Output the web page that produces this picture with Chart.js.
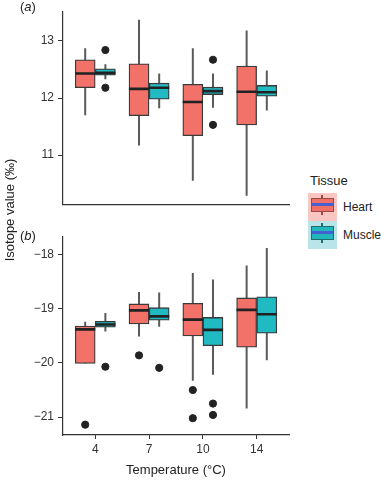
<!DOCTYPE html>
<html><head><meta charset="utf-8">
<script src="https://cdn.jsdelivr.net/npm/chart.js@4"></script>
<style>
body{margin:0;background:#fff;font-family:"Liberation Sans",Arial,sans-serif;color:#222}
#wrap{position:relative;width:382px;height:481px;overflow:hidden}
canvas{position:absolute;left:0}
.pl{position:absolute;font-size:13px;color:#222}
#ytitle{position:absolute;left:9px;top:210px;transform:translate(-50%,-50%) rotate(-90deg);white-space:nowrap;font-size:13px;color:#222}
.lg{position:absolute}
</style></head><body><div id="wrap">
<canvas id="ca" width="300" height="216" style="top:0"></canvas>
<canvas id="cb" width="300" height="256" style="top:225px"></canvas>
<div class="pl" style="left:20px;top:-1px">(<i>a</i>)</div>
<div class="pl" style="left:20px;top:228px">(<i>b</i>)</div>
<div id="ytitle">Isotope value (‰)</div>
<div class="pl" style="left:310px;top:173px;font-size:13px">Tissue</div>
<div class="lg" style="left:308px;top:193px;width:29px;height:28px;background:#f9c6c2"></div>
<div class="lg" style="left:321px;top:195px;width:2px;height:20px;background:#9a4a45"></div>
<div class="lg" style="left:311px;top:198px;width:21px;height:12px;background:#f07068;border:1px solid #9a4a45"></div>
<div class="lg" style="left:312px;top:203px;width:21px;height:3px;background:#4560d0"></div>
<div class="lg" style="left:308px;top:221px;width:29px;height:28px;background:#b9e4e8"></div>
<div class="lg" style="left:321px;top:223px;width:2px;height:20px;background:#1f6e70"></div>
<div class="lg" style="left:311px;top:226px;width:21px;height:12px;background:#22b7bd;border:1px solid #1f6e70"></div>
<div class="lg" style="left:312px;top:231px;width:21px;height:3px;background:#4560d0"></div>
<div class="pl" style="left:343px;top:200px;font-size:12px">Heart</div>
<div class="pl" style="left:343px;top:228px;font-size:12px">Muscle</div>
</div>
<script>
const categories = ['4', '7', '10', '14'];

// Panel (a)
const heartA_low  = [11.70, 11.17, 10.55, 10.29];
const heartA_q1   = [12.18, 11.69, 11.34, 11.53];
const heartA_med  = [12.43, 12.16, 11.93, 12.11];
const heartA_q3   = [12.67, 12.60, 12.24, 12.56];
const heartA_high = [12.87, 13.37, 12.87, 13.18];
const heartA_out  = [[], [], [], []];
const muscleA_low  = [12.33, 11.82, 11.83, 11.78];
const muscleA_q1   = [12.40, 11.98, 12.06, 12.03];
const muscleA_med  = [12.44, 12.18, 12.12, 12.10];
const muscleA_q3   = [12.51, 12.26, 12.19, 12.22];
const muscleA_high = [12.59, 12.43, 12.43, 12.48];
const muscleA_out  = [[12.84, 12.18], [], [12.67, 11.53], []];

// Panel (b)
const heartB_low  = [-20.01, -19.51, -20.33, -20.84];
const heartB_q1   = [-20.01, -19.28, -19.50, -19.71];
const heartB_med  = [-19.38, -19.03, -19.20, -19.02];
const heartB_q3   = [-19.32, -18.91, -18.90, -18.80];
const heartB_high = [-19.24, -18.69, -18.34, -18.20];
const heartB_out  = [[-21.14], [-19.86], [-20.50, -21.02], []];
const muscleB_low  = [-19.42, -19.33, -20.22, -19.95];
const muscleB_q1   = [-19.34, -19.21, -19.68, -19.45];
const muscleB_med  = [-19.29, -19.14, -19.39, -19.10];
const muscleB_q3   = [-19.23, -18.98, -19.16, -18.78];
const muscleB_high = [-19.08, -18.70, -18.46, -17.88];
const muscleB_out  = [[-20.07], [-20.09], [-20.75, -20.96], []];

const yTickValsA = [11, 12, 13];
const yTickLabelsA = ['11', '12', '13'];
const yTickValsB = [-21, -20, -19, -18];
const yTickLabelsB = ['\u221221', '\u221220', '\u221219', '\u221218'];
const yRangeA = [10.13, 13.52];
const yRangeB = [-21.33, -17.66];

const HALF = 0.1875;
const FONT = {family: 'Liberation Sans', size: 12};

function groupSets(low, q1, med, q3, high, out, off, fill) {
  const whisk = [], medl = [], pts = [];
  categories.forEach((c, i) => {
    const x = i + 1 + off;
    whisk.push({x: x, y: low[i]}, {x: x, y: high[i]}, {x: x, y: null});
    medl.push({x: x - HALF, y: med[i]}, {x: x + HALF, y: med[i]}, {x: x, y: null});
    out[i].forEach(v => pts.push({x: x, y: v}));
  });
  return [
    {type: 'line', data: whisk, borderColor: '#5a5a5a', borderWidth: 2, pointRadius: 0, spanGaps: false, order: 3},
    {type: 'bar', data: categories.map((c, i) => ({x: i + 1 + off, y: [q1[i], q3[i]]})),
      backgroundColor: fill, borderColor: '#3a3a3a', borderWidth: 1.3, borderSkipped: false,
      grouped: false, categoryPercentage: 1, barPercentage: 1, maxBarThickness: 20, order: 2},
    {type: 'line', data: medl, borderColor: '#222', borderWidth: 2.6, pointRadius: 0, spanGaps: false, order: 1},
    {type: 'scatter', data: pts, backgroundColor: '#222', borderColor: '#222', pointRadius: 3.6, order: 0}
  ];
}

function makeChart(id, sets, yRange, yVals, yLabels, bottom) {
  return new Chart(document.getElementById(id), {
    type: 'bar',
    data: {datasets: sets},
    options: {
      responsive: false, animation: false, devicePixelRatio: 1,
      layout: {padding: {top: bottom ? 8 : 7, right: 11, left: 0, bottom: 0}},
      plugins: {legend: {display: false}, tooltip: {enabled: false}},
      scales: {
        x: {
          type: 'linear', min: 0.4, max: 4.6, offset: false,
          afterBuildTicks: s => { s.ticks = categories.map((c, i) => ({value: i + 1})); },
          afterFit: s => { s.height = bottom ? 46 : 10; },
          grid: {display: true, drawOnChartArea: false, drawTicks: bottom, tickLength: 4, color: '#333', offset: false},
          border: {display: true, color: '#333', width: 1.2},
          ticks: {display: bottom, padding: 3, font: FONT, color: '#333', maxRotation: 0,
            callback: v => categories[Math.round(v) - 1]},
          title: {display: bottom, text: 'Temperature (\u00B0C)', color: '#222',
            font: {family: 'Liberation Sans', size: 13}, padding: {top: 0, bottom: 3}}
        },
        y: {
          type: 'linear', min: yRange[0], max: yRange[1], stacked: false,
          afterBuildTicks: s => { s.ticks = yVals.map(v => ({value: v})); },
          afterFit: s => { s.width = 63; },
          grid: {display: true, drawOnChartArea: false, drawTicks: true, tickLength: 5, color: '#333'},
          border: {display: true, color: '#333', width: 1.2},
          ticks: {padding: 4, font: FONT, color: '#333',
            callback: v => yLabels[yVals.indexOf(v)]}
        }
      }
    }
  });
}

makeChart('ca',
  groupSets(heartA_low, heartA_q1, heartA_med, heartA_q3, heartA_high, heartA_out, -HALF, '#f2726a')
    .concat(groupSets(muscleA_low, muscleA_q1, muscleA_med, muscleA_q3, muscleA_high, muscleA_out, HALF, '#1fbac2')),
  yRangeA, yTickValsA, yTickLabelsA, false);
makeChart('cb',
  groupSets(heartB_low, heartB_q1, heartB_med, heartB_q3, heartB_high, heartB_out, -HALF, '#f2726a')
    .concat(groupSets(muscleB_low, muscleB_q1, muscleB_med, muscleB_q3, muscleB_high, muscleB_out, HALF, '#1fbac2')),
  yRangeB, yTickValsB, yTickLabelsB, true);
</script></body></html>
